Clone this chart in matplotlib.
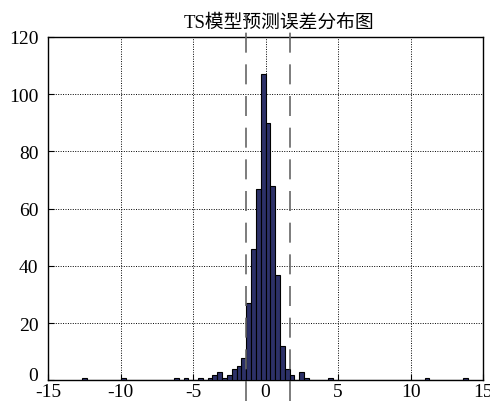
import numpy as np
import matplotlib
matplotlib.use('Agg')
import matplotlib.pyplot as plt

plt.rcParams['font.family'] = ['Liberation Serif', 'Noto Sans CJK SC']
plt.rcParams['axes.unicode_minus'] = False

# histogram of the TS model errors: 80 bins between the min and max error
err_min = -12.64
err_max = 13.96
counts = [1, 0, 0, 0, 0, 0, 0, 0, 1, 0,
          0, 0, 0, 0, 0, 0, 0, 0, 0, 1,
          0, 1, 0, 0, 1, 0, 1, 2, 3, 1,
          2, 4, 5, 8, 27, 46, 67, 107, 90, 68,
          37, 12, 4, 2, 0, 3, 1, 0, 0, 0,
          0, 1, 0, 0, 0, 0, 0, 0, 0, 0,
          0, 0, 0, 0, 0, 0, 0, 0, 0, 0,
          0, 1, 0, 0, 0, 0, 0, 0, 0, 1]
bounds = [-1.35, 1.67]
xticks = [-15, -10, -5, 0, 5, 10, 15]
yticks = [0, 20, 40, 60, 80, 100, 120]

edges = np.linspace(err_min, err_max, len(counts) + 1)
centers = (edges[:-1] + edges[1:]) / 2
width = edges[1] - edges[0]

fig = plt.figure(figsize=(4.9, 4.02), dpi=100)
ax = fig.add_axes([0.098, 0.051, 0.888, 0.855])

ax.bar(centers, counts, width=width, color='#2d3168', edgecolor='black',
       linewidth=0.8, zorder=3)

for b in bounds:
    ax.plot([b, b], [-7, 128], color='#666666', linestyle=(0, (12, 7)),
            linewidth=1.2, clip_on=False, zorder=4)

ax.set_xlim(-15, 15)
ax.set_ylim(0, 120)
ax.set_xticks(xticks)
ax.set_yticks(yticks)
ax.grid(True, color='black', linestyle=(0, (1, 1.5)), linewidth=0.7)
ax.tick_params(direction='in', length=4, labelsize=14)
ax.tick_params(axis='y', pad=7)
ax.tick_params(axis='x', pad=1.5)
for s in ax.spines.values():
    s.set_linewidth(1.0)

# the "0" on the y axis sits above its tick, like in matlab
ax.get_yticklabels()[0].set_verticalalignment('baseline')

ax.set_title('TS模型预测误差分布图', fontsize=13.5, pad=7, x=0.53)

fig.savefig('out.png', dpi=100)
